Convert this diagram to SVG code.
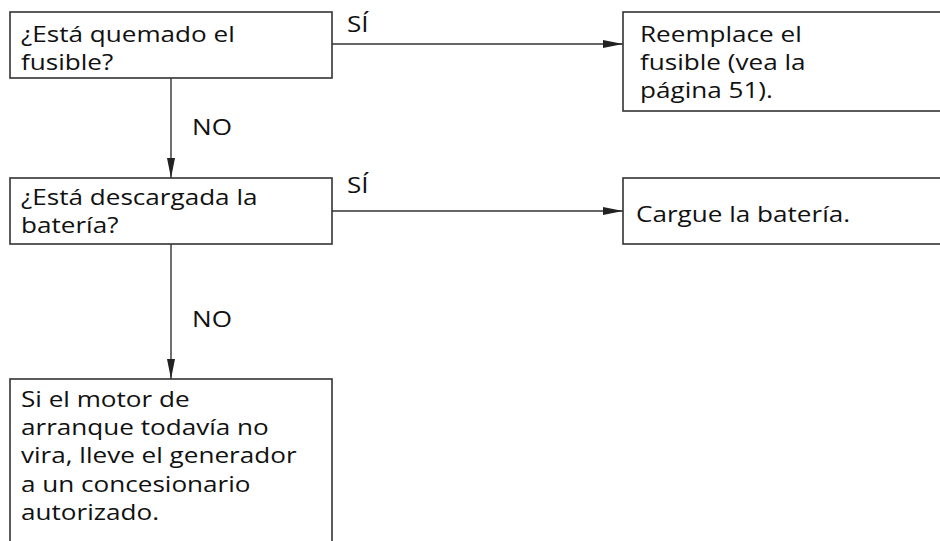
<svg xmlns="http://www.w3.org/2000/svg" width="940" height="541" viewBox="0 0 940 541">
<defs>
<style>
.box{fill:#fff;stroke:#333;stroke-width:1.6}
.ln{fill:none;stroke:#333;stroke-width:1.4}
text{font-family:"Open Sans","Liberation Sans",sans-serif;font-size:22.5px;fill:#111}
</style>
<marker id="ah" markerUnits="userSpaceOnUse" markerWidth="22" markerHeight="10" refX="20" refY="4.5" orient="auto">
<path d="M0,0.5 L20,4.5 L0,8.5 Z" fill="#222"/>
</marker>
</defs>
<rect width="940" height="541" fill="#fff"/>
<g id="connectors">
<line class="ln" x1="332" y1="44" x2="623" y2="44" marker-end="url(#ah)"/>
<line class="ln" x1="332" y1="211" x2="623" y2="211" marker-end="url(#ah)"/>
<line class="ln" x1="171" y1="78" x2="171" y2="178" marker-end="url(#ah)"/>
<line class="ln" x1="171" y1="244" x2="171" y2="379" marker-end="url(#ah)"/>
<text transform="translate(347,32) scale(1.16,1)">SÍ</text>
<text transform="translate(347,193) scale(1.16,1)">SÍ</text>
<text transform="translate(192,135) scale(1.16,1)">NO</text>
<text transform="translate(192,327) scale(1.16,1)">NO</text>
</g>
<g id="q1">
<rect class="box" x="10" y="12" width="322" height="66"/>
<text transform="translate(21,42) scale(1.16,1)">¿Está quemado el</text>
<text transform="translate(21,70) scale(1.16,1)">fusible?</text>
</g>
<g id="q2">
<rect class="box" x="10" y="178" width="322" height="66"/>
<text transform="translate(21,205) scale(1.16,1)">¿Está descargada la</text>
<text transform="translate(21,233) scale(1.16,1)">batería?</text>
</g>
<g id="a3">
<rect class="box" x="10" y="379" width="322" height="180"/>
<text transform="translate(21,407) scale(1.16,1)">Si el motor de</text>
<text transform="translate(21,435) scale(1.16,1)">arranque todavía no</text>
<text transform="translate(21,463) scale(1.16,1)">vira, lleve el generador</text>
<text transform="translate(21,492) scale(1.16,1)">a un concesionario</text>
<text transform="translate(21,520) scale(1.16,1)">autorizado.</text>
</g>
<g id="a1">
<rect class="box" x="623" y="12" width="330" height="99"/>
<text transform="translate(640,42) scale(1.16,1)">Reemplace el</text>
<text transform="translate(640,70) scale(1.16,1)">fusible (vea la</text>
<text transform="translate(640,98) scale(1.16,1)">página 51).</text>
</g>
<g id="a2">
<rect class="box" x="623" y="178" width="330" height="66"/>
<text transform="translate(636,222) scale(1.16,1)">Cargue la batería.</text>
</g>
</svg>
